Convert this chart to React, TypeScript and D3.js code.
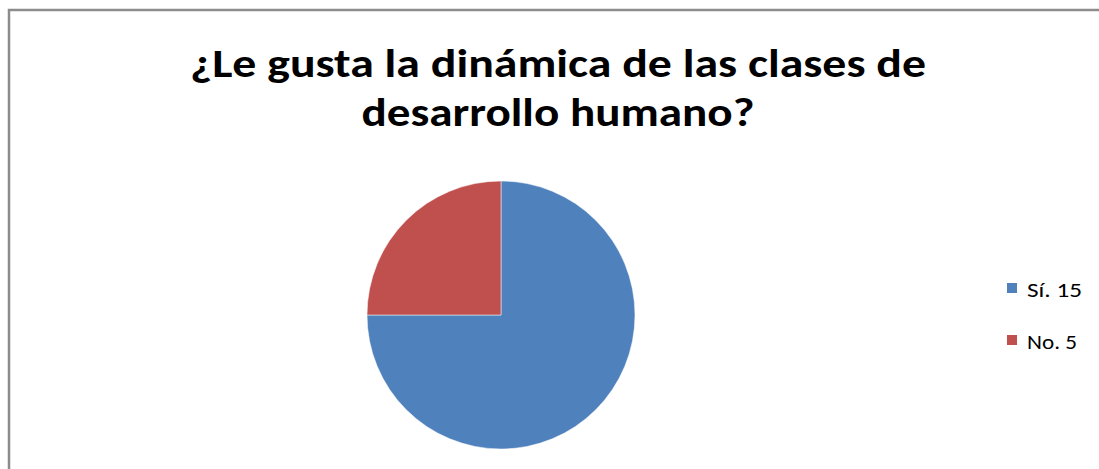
import React from "react";
import * as d3 from "d3";

const categories = ["Sí", "No"];
const values = [15, 5];
const colors = ["#4F81BD", "#C0504D"];
const titleLines = ["¿Le gusta la dinámica de las clases de", "desarrollo humano?"];
const legendWidths = [55, 50];

export default function App() {
  const W = 1099, H = 469;
  const cx = 501, cy = 315, r = 134;
  const pie = d3.pie<number>().sort(null).value((d) => d);
  const arcs = pie(values);
  const arc = d3.arc<d3.PieArcDatum<number>>().innerRadius(0).outerRadius(r);
  const font = "Carlito, Calibri, 'Open Sans', 'Liberation Sans', sans-serif";
  return (
    <svg width={W} height={H} style={{ position: "absolute", left: 0, top: 0 }}>
      <rect x={0} y={0} width={W} height={H} fill="#fff" />
      <path d={`M9,${H + 5} L9,10 L${W + 5},10`} fill="none" stroke="#8c8c8c" strokeWidth={2.5} />
      <text x={558} y={77} textAnchor="middle" fontFamily={font} fontWeight={700} fontSize={40}
        textLength={736} lengthAdjust="spacingAndGlyphs" fill="#000">{titleLines[0]}</text>
      <text x={558} y={126} textAnchor="middle" fontFamily={font} fontWeight={700} fontSize={40}
        textLength={393} lengthAdjust="spacingAndGlyphs" fill="#000">{titleLines[1]}</text>
      <g transform={`translate(${cx},${cy})`}>
        {arcs.map((a, i) => (
          <path key={i} d={arc(a) || ""} fill={colors[i]} stroke="#fff" strokeWidth={0.5} />
        ))}
      </g>
      {categories.map((c, i) => (
        <g key={c} transform={`translate(1007,${283 + i * 52})`}>
          <rect x={0} y={0} width={10} height={10} fill={colors[i]} />
          <text x={20} y={14} fontFamily={font} fontSize={21} fill="#000"
            textLength={legendWidths[i]} lengthAdjust="spacingAndGlyphs">{`${c}. ${values[i]}`}</text>
        </g>
      ))}
    </svg>
  );
}
